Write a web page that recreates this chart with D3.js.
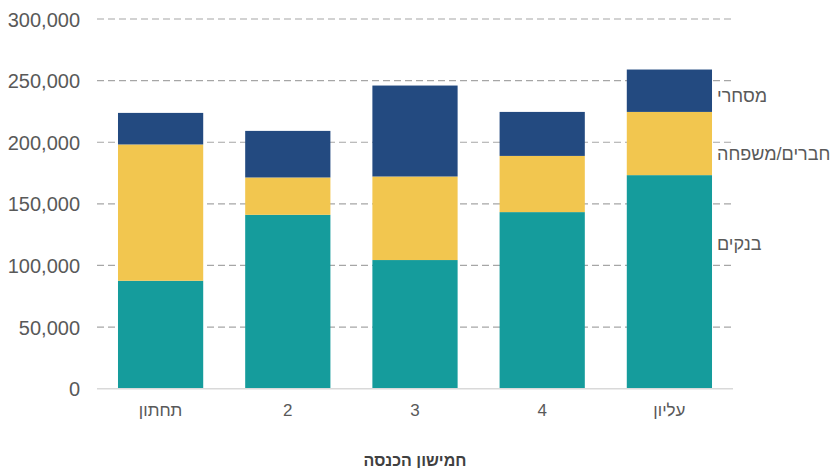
<!DOCTYPE html>
<html><head><meta charset="utf-8">
<script src="https://cdn.jsdelivr.net/npm/d3@7"></script>
<style>body{margin:0;background:#fff}svg{display:block;font-family:"Liberation Sans",Arial,sans-serif}</style>
</head><body><svg id="c" width="837" height="468"></svg>
<script>
const categories = ["תחתון","2","3","4","עליון"];
const banks = [87600,141100,104400,143300,173300];
const family = [110600,30300,67800,45600,51300];
const commercial = [25600,37800,73800,35700,34400];
const seriesNames = ["בנקים","חברים/משפחה","מסחרי"];
const yTicks = [0,50000,100000,150000,200000,250000,300000];
const xTitle = "חמישון הכנסה";

const colors = ["#159c9c","#f2c64f","#234a80"];
const svg = d3.select("#c");
const x = d3.scaleBand().domain(categories).range([97,733]).paddingInner(0.33).paddingOuter(0.165);
const y = d3.scaleLinear().domain([0,300000]).range([388.7,19]);

const rows = categories.map((c,i)=>({cat:c, s0:banks[i], s1:family[i], s2:commercial[i]}));
const stack = d3.stack().keys(["s0","s1","s2"])(rows);

// grid
svg.append("g").selectAll("line").data(yTicks.filter(d=>d>0)).join("line")
  .attr("x1",97).attr("x2",733).attr("y1",d=>y(d)).attr("y2",d=>y(d))
  .attr("stroke","#a6a6a6").attr("stroke-width",1.2).attr("stroke-dasharray","7,4");

// bars
svg.append("g").selectAll("g").data(stack).join("g").attr("fill",(d,i)=>colors[i])
  .selectAll("rect").data(d=>d).join("rect")
  .attr("x",d=>x(d.data.cat)).attr("width",x.bandwidth())
  .attr("y",d=>y(d[1])).attr("height",d=>y(d[0])-y(d[1]));

// zero line
svg.append("line").attr("x1",97).attr("x2",733).attr("y1",y(0)).attr("y2",y(0))
  .attr("stroke","#d9d9d9").attr("stroke-width",1.5);

// y labels
const yAxis = d3.axisLeft(y).tickValues(yTicks).tickFormat(d3.format(",")).tickSize(0).tickPadding(0);
const ga = svg.append("g").attr("transform","translate(80,0)").call(yAxis);
ga.select(".domain").remove();
ga.selectAll("text").attr("font-size",20).attr("fill","#595959").attr("font-family","Liberation Sans, Arial, sans-serif").attr("dy","0.35em");

// x labels
const xAxis = d3.axisBottom(x).tickSize(0).tickPadding(0);
const gx = svg.append("g").attr("transform","translate(0,404)").call(xAxis);
gx.select(".domain").remove();
gx.selectAll("text").attr("font-size",17).attr("fill","#595959").attr("font-family","Liberation Sans, Arial, sans-serif").attr("dy","0.71em");

// x title
svg.append("text").attr("x",415).attr("y",466).attr("text-anchor","middle")
  .attr("font-size",16).attr("font-weight","bold").attr("fill","#404040").text(xTitle);

// series labels near last bar
const labelY = [y(117300), y(190500), y(238000)];
svg.append("g").selectAll("text").data(seriesNames).join("text")
  .attr("x",717).attr("y",(d,i)=>labelY[i]).attr("dy","0.35em")
  .attr("text-anchor","start").attr("direction","ltr")
  .attr("font-size",18).attr("fill","#595959").text(d=>d);
</script></body></html>
